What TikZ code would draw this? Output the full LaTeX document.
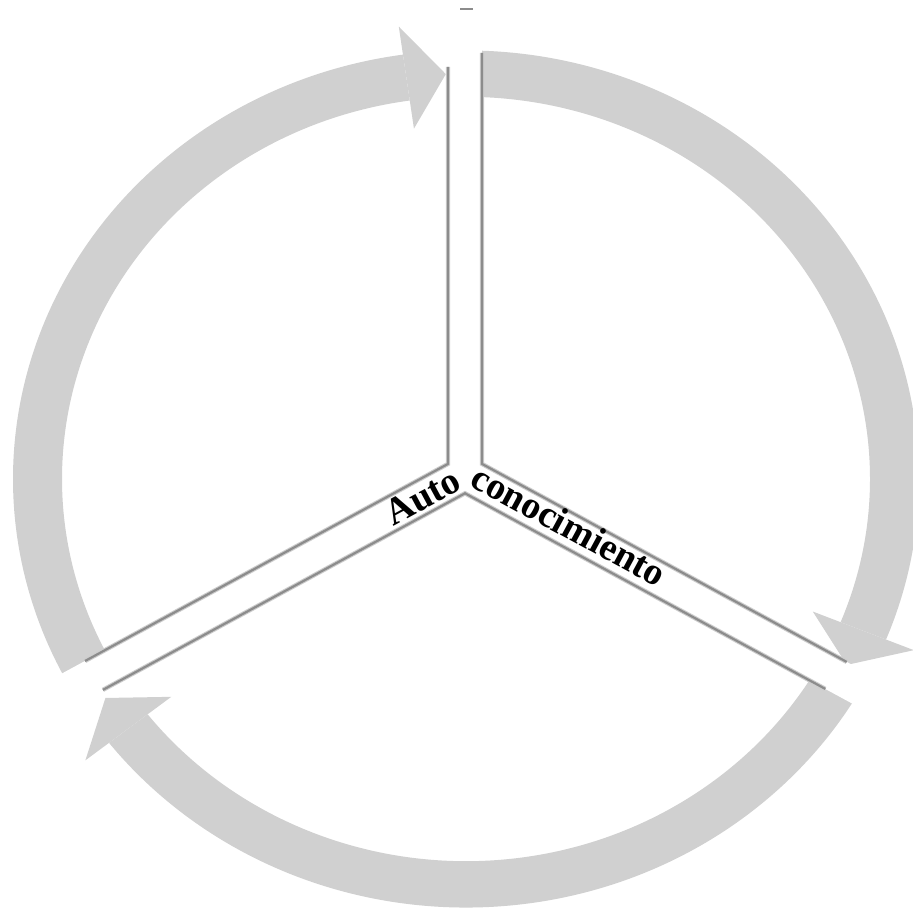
\documentclass[tikz,border=0pt]{standalone}
\usepackage{fontspec}
\setmainfont{Liberation Serif}
\usetikzlibrary{calc}
\definecolor{bandgray}{RGB}{208,208,208}
\definecolor{linegray}{RGB}{140,140,140}
\definecolor{halogray}{RGB}{205,205,205}
\tikzset{
	band/.style    = {fill=bandgray},
	gapcut/.style  = {draw=white,line width=17pt},
	gaphalo/.style = {draw=halogray,line width=2.2pt},
	gapline/.style = {draw=linegray,line width=1.1pt},
	lbl/.style     = {inner sep=0pt,font=\fontsize{19}{19}\selectfont\bfseries},
}

\begin{document}
\begin{tikzpicture}[x=0.5pt,y=0.5pt]
	\clip (-466,-430) rectangle (447,479);
	%% Flechas del ciclo
	\begin{scope}[yscale=0.946]
		\foreach \a/\b in {90/-22, -30/-142, 210/98} {
			\fill[band] (\a:453) arc[start angle=\a,end angle=\b,radius=453]
			-- (\b:404) arc[start angle=\b,end angle=\a,radius=404] -- cycle;
			\fill[band] (\b:374) -- (\b:483) -- ({\b-5.3}:428.5) -- cycle;
		}
	\end{scope}
	
	%% Separaciones
	\coordinate (o) at (-1,5);
	\foreach \t in {90,208.5,-28.5} \draw[gapcut] (o) -- ++(\t:520);
	\coordinate (jl) at (-18,15.1);
	\coordinate (jr) at (16,15.1);
	\coordinate (jb) at (-1,-14.3);
	\coordinate (tl) at (-18,412);
	\coordinate (tr) at (16,426);
	\coordinate (ul) at ($(jl)+(208.5:413)$);
	\coordinate (ll) at ($(jb)+(208.5:412)$);
	\coordinate (lr) at ($(jb)+(-28.5:410)$);
	\coordinate (ur) at ($(jr)+(-28.5:415)$);
	\foreach \p/\q/\r in {tl/jl/ul, tr/jr/ur, ll/jb/lr} {
		\draw[gaphalo] (\p) -- (\q) -- (\r);
		\draw[gapline] (\p) -- (\q) -- (\r);
	}
	\coordinate (m1) at (-6,470);
	\coordinate (m2) at (7,470);
	\draw[gapline] (m1) -- (m2);
	
	%% Texto
	\node (auto) [lbl,rotate=28.5,anchor=base east] at (-2,-9) {Auto};
	\node (cono) [lbl,rotate=-28.5,anchor=base west] at (2,-6) {conocimiento};
\end{tikzpicture}
\end{document}
